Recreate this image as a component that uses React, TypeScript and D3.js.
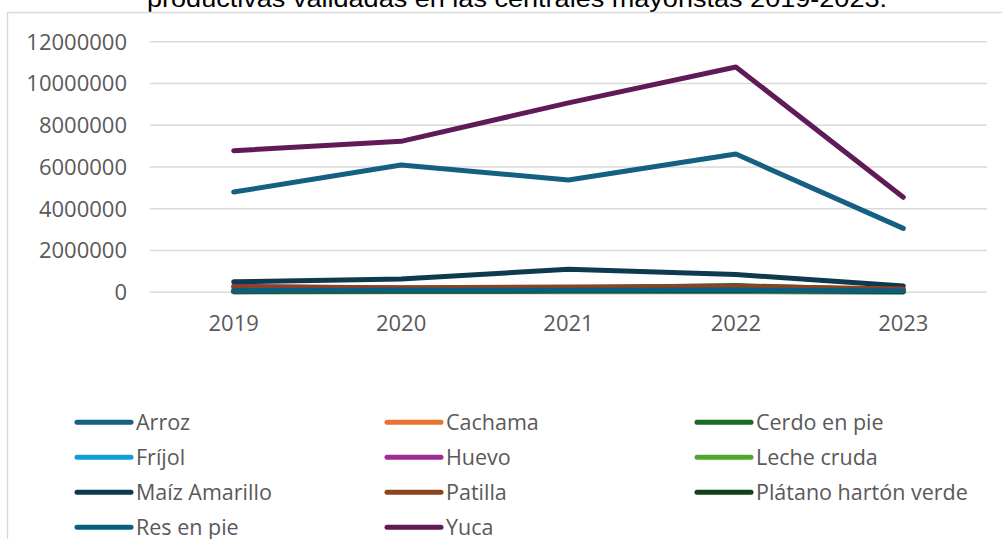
import React from "react";
import * as d3 from "d3";

const years = ["2019", "2020", "2021", "2022", "2023"];
const yTicks = [0, 2000000, 4000000, 6000000, 8000000, 10000000, 12000000];
const seriesNames = [
  "Arroz", "Cachama", "Cerdo en pie", "Fríjol", "Huevo", "Leche cruda",
  "Maíz Amarillo", "Patilla", "Plátano hartón verde", "Res en pie", "Yuca",
];
const seriesColors = [
  "#156082", "#E97132", "#196B24", "#0F9ED5", "#A02B93", "#4EA72E",
  "#0D3A4E", "#8C441E", "#0F4016", "#095F80", "#601A58",
];
const arroz = [4800000, 6100000, 5380000, 6620000, 3060000];
const cachama = [20000, 25000, 30000, 30000, 15000];
const cerdo = [100000, 120000, 200000, 320000, 100000];
const frijol = [30000, 35000, 40000, 40000, 20000];
const huevo = [290000, 200000, 150000, 120000, 50000];
const leche = [40000, 45000, 50000, 60000, 30000];
const maiz = [500000, 640000, 1100000, 850000, 300000];
const patilla = [250000, 220000, 250000, 290000, 160000];
const platano = [50000, 60000, 70000, 80000, 40000];
const res = [80000, 100000, 100000, 110000, 60000];
const yuca = [6780000, 7230000, 9070000, 10790000, 4550000];
const seriesValues = [arroz, cachama, cerdo, frijol, huevo, leche, maiz, patilla, platano, res, yuca];

const titleLine = "productivas validadas en las centrales mayoristas 2019-2023.";

export default function App() {
  const W = 1002, H = 539;
  const plotLeft = 150, plotRight = 987, plotTop = 41.7, plotBottom = 292.3;
  const x = d3.scaleBand<string>().domain(years).range([plotLeft, plotRight]);
  const y = d3.scaleLinear().domain([0, 12000000]).range([plotBottom, plotTop]);
  const line = d3.line<number>()
    .x((_, i) => (x(years[i]) as number) + x.bandwidth() / 2)
    .y((d) => y(d));
  const font = "'Open Sans', 'Liberation Sans', sans-serif";
  const textColor = "#595959";

  return (
    <svg width={W} height={H} style={{ position: "absolute", left: 0, top: 0, background: "#fff" }}>
      <rect x={0} y={0} width={W} height={H} fill="#fff" />
      <text x={147} y={6.5} fontFamily="'Liberation Sans', Arial, sans-serif" fontSize={24}
        textLength={740} lengthAdjust="spacingAndGlyphs" fill="#000">{titleLine}</text>
      <path d={`M${W + 5},12.5 H7.5 V${H + 5}`} fill="none" stroke="#d9d9d9" strokeWidth={1.5} />
      {yTicks.map((t) => (
        <g key={t}>
          <line x1={plotLeft} x2={plotRight} y1={y(t)} y2={y(t)} stroke="#d9d9d9" strokeWidth={1.5} />
          <text x={127} y={y(t)} dy="0.36em" textAnchor="end" fontFamily={font} fontSize={22} fill={textColor}>
            {t}
          </text>
        </g>
      ))}
      {years.map((yr) => (
        <text key={yr} x={(x(yr) as number) + x.bandwidth() / 2} y={331} textAnchor="middle"
          fontFamily={font} fontSize={22} fill={textColor}>{yr}</text>
      ))}
      {seriesValues.map((vals, i) => (
        <path key={seriesNames[i]} d={line(vals) || ""} fill="none" stroke={seriesColors[i]}
          strokeWidth={5} strokeLinecap="round" strokeLinejoin="round" />
      ))}
      {seriesNames.map((name, i) => {
        const col = i % 3, row = Math.floor(i / 3);
        const lx = 77 + col * 310, ly = 422.3 + row * 35;
        return (
          <g key={name}>
            <line x1={lx} x2={lx + 54} y1={ly} y2={ly} stroke={seriesColors[i]} strokeWidth={5} strokeLinecap="round" />
            <text x={lx + 59} y={ly} dy="0.36em" fontFamily={font} fontSize={21.5} fill={textColor}>{name}</text>
          </g>
        );
      })}
    </svg>
  );
}
